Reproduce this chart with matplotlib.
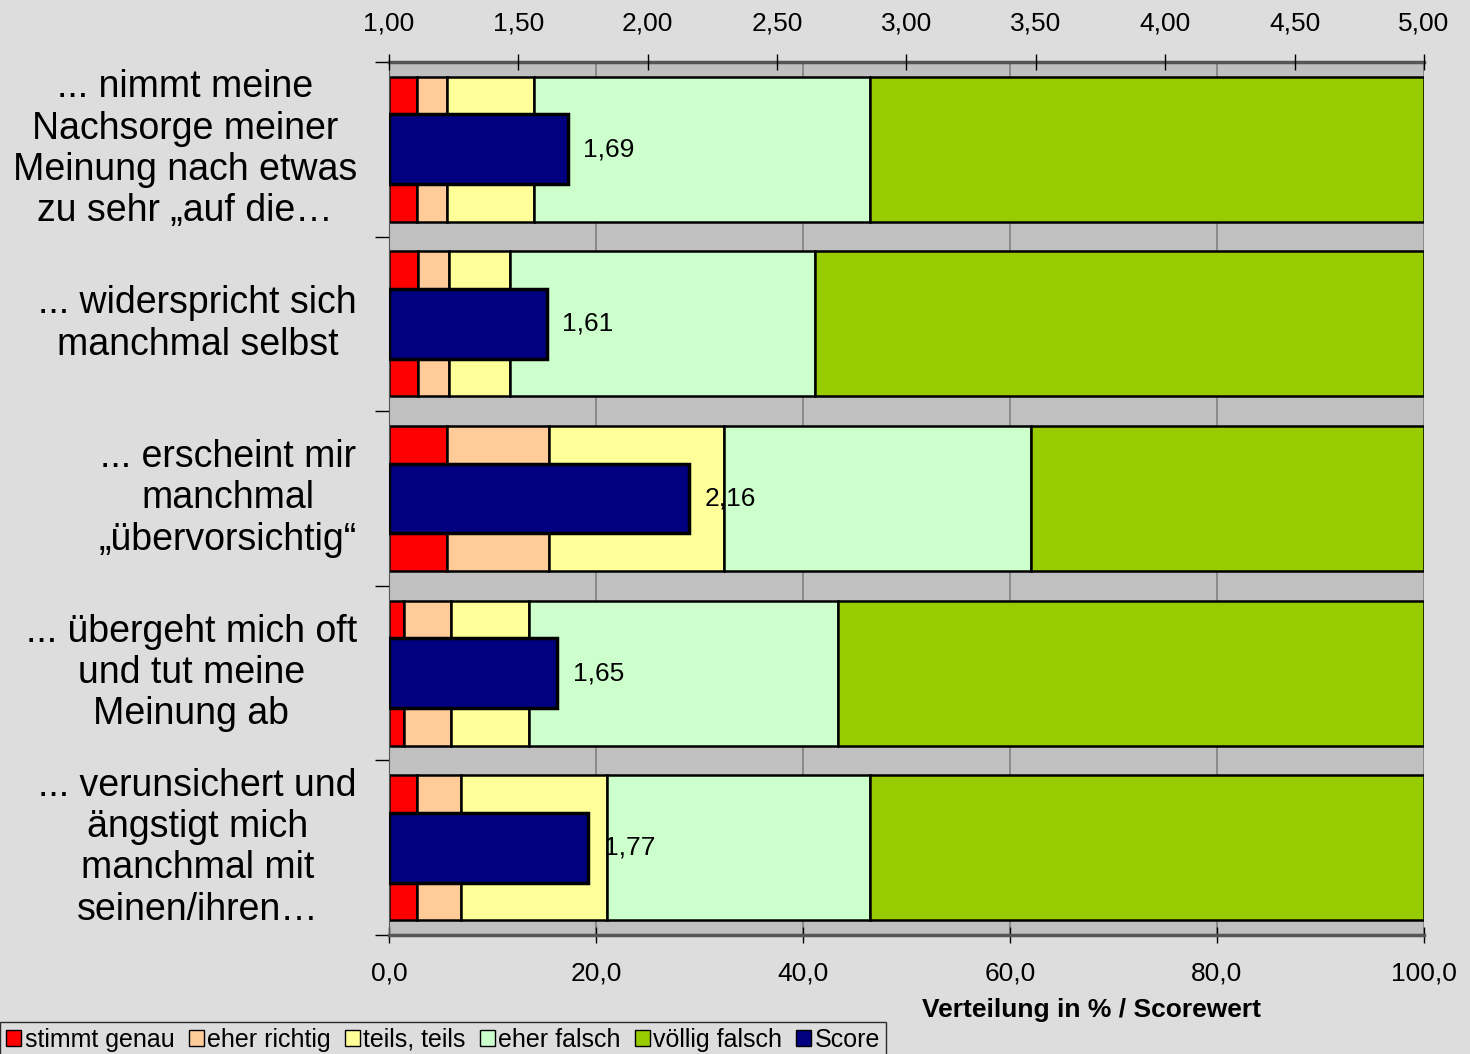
import matplotlib.pyplot as plt
from matplotlib.patches import Patch
from matplotlib.ticker import FuncFormatter
import numpy as np

plt.rcParams['font.family'] = ['Liberation Sans', 'DejaVu Sans']

categories = [
    '... nimmt meine\nNachsorge meiner\nMeinung nach etwas\nzu sehr \u201eauf die\u2026',
    '... widerspricht sich\nmanchmal selbst',
    '... erscheint mir\nmanchmal\n\u201eübervorsichtig\u201c',
    '... übergeht mich oft\nund tut meine\nMeinung ab',
    '... verunsichert und\nängstigt mich\nmanchmal mit\nseinen/ihren\u2026',
]
series_names = ['stimmt genau', 'eher richtig', 'teils, teils', 'eher falsch', 'völlig falsch']
stimmt_genau = [2.7, 2.8, 5.6, 1.5, 2.7]
eher_richtig = [2.9, 3.0, 9.9, 4.5, 4.3]
teils_teils = [8.4, 5.9, 16.9, 7.5, 14.1]
eher_falsch = [32.5, 29.5, 29.6, 29.9, 25.4]
voellig_falsch = [53.5, 58.8, 38.0, 56.6, 53.5]
scores = [1.69, 1.61, 2.16, 1.65, 1.77]

colors = ['#ff0000', '#ffcc99', '#ffff99', '#ccffcc', '#99cc00']
score_color = '#000080'
bg = '#dddddd'

fig = plt.figure(figsize=(14.7, 10.54), dpi=100, facecolor=bg)
ax = fig.add_axes([0.2646, 0.1129, 0.7041, 0.8283])
ax.set_facecolor('#c0c0c0')

y = np.arange(len(categories))
left = np.zeros(len(categories))
for vals, col in zip([stimmt_genau, eher_richtig, teils_teils, eher_falsch, voellig_falsch], colors):
    ax.barh(y, vals, left=left, height=0.83, color=col, edgecolor='black', linewidth=1.8, zorder=2)
    left += np.array(vals)

ax.set_xlim(0, 100)
ax.set_ylim(4.5, -0.5)
ax.set_xticks(range(0, 101, 20))
ax.xaxis.set_major_formatter(FuncFormatter(lambda v, p: f'{v:.1f}'.replace('.', ',')))
ax.tick_params(axis='x', direction='inout', length=12, width=1, labelsize=19, pad=13)
ax.grid(axis='x', color='#808080', linewidth=1.2, zorder=0)
ax.set_axisbelow(True)

ax.set_yticks(np.arange(-0.5, 5, 1))
ax.set_yticklabels([])
ax.tick_params(axis='y', direction='out', length=10, width=1)
for i, lab in enumerate(categories):
    ax.text(-0.031, i, lab, transform=ax.get_yaxis_transform(), ha='right', va='center',
            multialignment='center', fontsize=27, linespacing=1.19)

ax.spines['right'].set_visible(False)
for s in ['top', 'bottom', 'left']:
    ax.spines[s].set_color('#555555')
ax.spines['top'].set_linewidth(2.5)
ax.spines['bottom'].set_linewidth(2.5)

ax2 = ax.twiny()
ax2.set_xlim(1, 5)
ax2.barh(y, np.array(scores) - 1, left=1, height=0.4, color=score_color, edgecolor='black', linewidth=2.5)
for yi, s in zip(y, scores):
    ax2.text(s + 0.06, yi, f'{s:.2f}'.replace('.', ','), va='center', ha='left', fontsize=19)
ax2.set_xticks(np.arange(1, 5.01, 0.5))
ax2.xaxis.set_major_formatter(FuncFormatter(lambda v, p: f'{v:.2f}'.replace('.', ',')))
ax2.tick_params(axis='x', direction='inout', length=12, width=1, labelsize=19, pad=13)
for s in ['right', 'left', 'bottom', 'top']:
    ax2.spines[s].set_visible(False)

fig.text(0.7425, 0.042, 'Verteilung in % / Scorewert', ha='center', va='center',
         fontsize=19, fontweight='bold')

handles = [Patch(facecolor=c, edgecolor='black', linewidth=1) for c in colors]
handles.append(Patch(facecolor=score_color, edgecolor='black', linewidth=1))
leg = fig.legend(handles, series_names + ['Score'], loc='lower left', bbox_to_anchor=(0.0, -0.004),
                 ncol=6, fontsize=18, frameon=True, fancybox=False, handlelength=0.6,
                 handleheight=0.6, handletextpad=0.15, columnspacing=0.55, borderpad=0.25,
                 borderaxespad=0)
leg.get_frame().set_edgecolor('black')
leg.get_frame().set_facecolor(bg)
leg.get_frame().set_linewidth(1)

fig.savefig('out.png', dpi=100, facecolor=bg)
